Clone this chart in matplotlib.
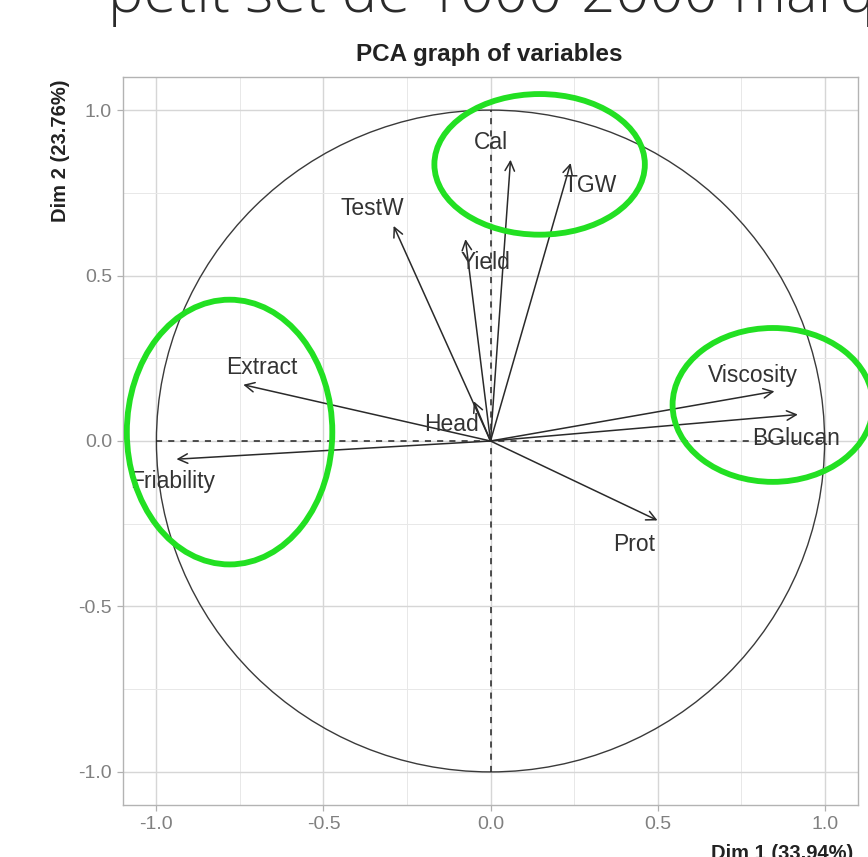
import matplotlib
matplotlib.use("Agg")
import matplotlib.pyplot as plt
from matplotlib.patches import Circle, Ellipse
import numpy as np

# ---- data ----
variables = ["Cal", "TGW", "TestW", "Yield", "Extract", "Head",
             "Friability", "Viscosity", "BGlucan", "Prot"]
dim1 = [0.06, 0.24, -0.29, -0.075, -0.74, -0.05, -0.94, 0.85, 0.92, 0.50]
dim2 = [0.85, 0.84, 0.65, 0.61, 0.17, 0.12, -0.055, 0.15, 0.08, -0.24]

title = "PCA graph of variables"
xlabel = "Dim 1 (33.94%)"
ylabel = "Dim 2 (23.76%)"
slide_text = "petit set de 1000-2000 marqueurs"
major_ticks = [-1.0, -0.5, 0.0, 0.5, 1.0]
tick_labels = ["-1.0", "-0.5", "0.0", "0.5", "1.0"]
minor_ticks = [-0.75, -0.25, 0.25, 0.75]

# highlight ellipses (centre x, centre y, width, height) in data units
highlight_cx = [0.147, -0.781, 0.845]
highlight_cy = [0.836, 0.027, 0.109]
highlight_w = [0.63, 0.615, 0.60]
highlight_h = [0.425, 0.80, 0.465]

# label offsets in pixels (styling / placement)
label_off = {
    "Cal": (-20, 17), "TGW": (20, -22), "TestW": (-21, 17), "Yield": (20, -23),
    "Extract": (19, 17), "Head": (-22, -23), "Friability": (-4, -22),
    "Viscosity": (-22, 16), "BGlucan": (-2, -24), "Prot": (-23, -24),
}

W, H = 868, 857
fig = plt.figure(figsize=(W / 100, H / 100), dpi=100)
fig.patch.set_facecolor("white")

ax = fig.add_axes([123 / W, 1 - 805 / H, (858 - 123) / W, (805 - 77) / H])
ax.set_xlim(-1.1, 1.1)
ax.set_ylim(-1.1, 1.1)

# grid
ax.set_xticks(major_ticks)
ax.set_yticks(major_ticks)
ax.set_xticklabels(tick_labels)
ax.set_yticklabels(tick_labels)
ax.set_xticks(minor_ticks, minor=True)
ax.set_yticks(minor_ticks, minor=True)
ax.grid(True, which="major", color="#d6d6d6", lw=1.0)
ax.grid(True, which="minor", color="#e8e8e8", lw=0.7)
ax.set_axisbelow(True)
ax.tick_params(which="minor", length=0)
ax.tick_params(which="major", length=4, color="#b0b0b0", width=0.9,
               labelsize=14, labelcolor="#808080", pad=4)
for lab in ax.get_xticklabels() + ax.get_yticklabels():
    lab.set_fontfamily("Liberation Sans")
for s in ax.spines.values():
    s.set_color("#b3b3b3")
    s.set_linewidth(1.0)

# unit circle and dashed axes
ax.add_patch(Circle((0, 0), 1.0, fill=False, ec="#3a3a3a", lw=1.0, zorder=2))
ax.plot([-1, 1], [0, 0], ls=(0, (4, 4)), color="#222222", lw=1.1, zorder=2)
ax.plot([0, 0], [-1, 1], ls=(0, (4, 4)), color="#222222", lw=1.1, zorder=2)

# arrows and labels
for name, x, y in zip(variables, dim1, dim2):
    ax.annotate("", xy=(x, y), xytext=(0, 0),
                arrowprops=dict(arrowstyle="->", color="#2a2a2a", lw=1.1,
                                mutation_scale=17, shrinkA=0, shrinkB=0),
                zorder=3)
    dx, dy = label_off[name]
    ax.annotate(name, xy=(x, y), xytext=(dx, dy), textcoords="offset pixels",
                ha="center", va="center", fontsize=16.5, color="#333333",
                family="Liberation Sans", zorder=4)

# green highlight ellipses
for cx, cy, w, h in zip(highlight_cx, highlight_cy, highlight_w, highlight_h):
    ax.add_patch(Ellipse((cx, cy), w, h, fill=False, ec="#22e022", lw=4.2,
                         clip_on=False, zorder=5))

# title and axis labels
fig.text(489 / W, 1 - 55 / H, title, ha="center", va="center",
         fontsize=17.5, fontweight="bold", color="#222222", family="Liberation Sans")
fig.text(60 / W, 1 - 80 / H, ylabel, rotation=90, ha="center", va="top",
         fontsize=14.5, fontweight="bold", color="#222222", family="Liberation Sans")
fig.text(853 / W, -0.002, xlabel, ha="right", va="baseline",
         fontsize=14.5, fontweight="bold", color="#222222", family="Liberation Sans")

# slide heading (cut off at top of screenshot)
fig.text(108 / W, 1 - 12 / H, slide_text, ha="left", va="baseline",
         fontsize=43, fontweight="light", color="#2a2a2a", family="Open Sans")

fig.savefig("out.png", dpi=100, facecolor="white")
